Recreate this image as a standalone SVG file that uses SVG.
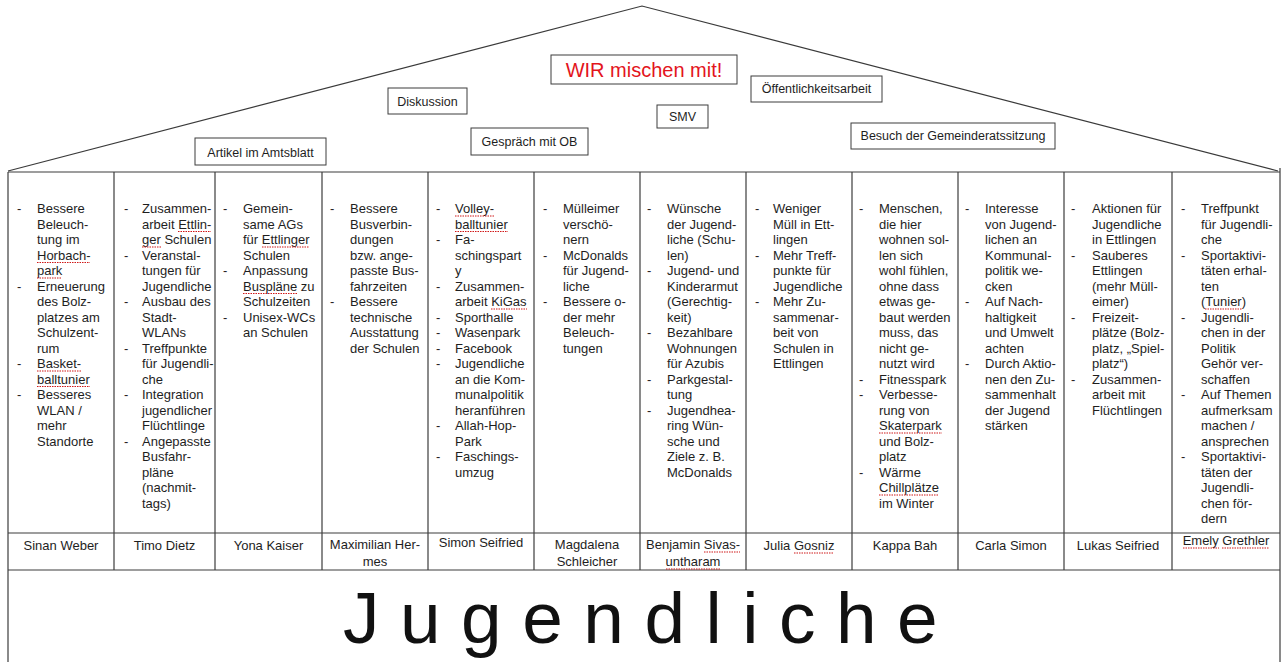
<svg xmlns="http://www.w3.org/2000/svg" width="1283" height="662" viewBox="0 0 1283 662">
<style>
text{font-family:"Liberation Sans",Arial,sans-serif;fill:#1e1e1e}
.roofline{fill:none;stroke:#3a3a3a;stroke-width:1.2}
.box rect{fill:#fff;stroke:#3c3c3c;stroke-width:1}
.box text{font-size:12.5px;text-anchor:middle}
.wir text{font-size:20px;fill:#e3141c}
.grid line{stroke:#3c3c3c;stroke-width:1.2}
.col text{font-size:13px}
.name text{font-size:13px;text-anchor:middle}
.sq{stroke:#d01818;stroke-width:1.2;stroke-dasharray:1.5 1}
.big{font-size:73px;letter-spacing:20.5px;fill:#111}
</style>

<g id="roof">
<polyline class="roofline" points="8,171 642,6 1278,171"/>
</g>

<g id="artikel" class="box"><rect x="195" y="138" width="131" height="27"/><text x="260.5" y="156.5">Artikel im Amtsblatt</text></g>
<g id="diskussion" class="box"><rect x="388" y="88" width="79" height="26"/><text x="427.5" y="105.5">Diskussion</text></g>
<g id="wir" class="box wir"><rect x="551" y="55" width="186" height="29"/><text x="644" y="77">WIR mischen mit!</text></g>
<g id="gespraech" class="box"><rect x="471" y="128" width="117" height="27"/><text x="529.5" y="145.5">Gespräch mit OB</text></g>
<g id="smv" class="box"><rect x="657" y="105" width="51" height="23"/><text x="682.5" y="120.5">SMV</text></g>
<g id="oeffentlichkeit" class="box"><rect x="751" y="76" width="131" height="26"/><text x="816.5" y="93">Öffentlichkeitsarbeit</text></g>
<g id="besuch" class="box"><rect x="851" y="123" width="204" height="26"/><text x="953" y="140">Besuch der Gemeinderatssitzung</text></g>

<g id="grid" class="grid">
<line x1="8" y1="172" x2="1280" y2="172"/>
<line x1="8" y1="172" x2="8" y2="662"/>
<line x1="1280" y1="168" x2="1280" y2="662"/>
<line x1="114" y1="172" x2="114" y2="570"/>
<line x1="215" y1="172" x2="215" y2="570"/>
<line x1="322" y1="172" x2="322" y2="570"/>
<line x1="428" y1="172" x2="428" y2="570"/>
<line x1="534" y1="172" x2="534" y2="570"/>
<line x1="640" y1="172" x2="640" y2="570"/>
<line x1="746" y1="172" x2="746" y2="570"/>
<line x1="852" y1="172" x2="852" y2="570"/>
<line x1="958" y1="172" x2="958" y2="570"/>
<line x1="1064" y1="172" x2="1064" y2="570"/>
<line x1="1172" y1="172" x2="1172" y2="570"/>
<line x1="8" y1="533" x2="1280" y2="533"/>
<line x1="8" y1="570" x2="1280" y2="570"/>
</g>

<g id="col1" class="col">
<text x="17"><tspan y="213">-</tspan><tspan x="17" y="290.5">-</tspan><tspan x="17" y="368">-</tspan><tspan x="17" y="399">-</tspan></text>
<text><tspan x="37" y="213">Bessere</tspan><tspan x="37" y="228.5">Beleuch-</tspan><tspan x="37" y="244">tung im</tspan><tspan x="37" y="259.5">Horbach-</tspan><tspan x="37" y="275">park</tspan><tspan x="37" y="290.5">Erneuerung</tspan><tspan x="37" y="306">des Bolz-</tspan><tspan x="37" y="321.5">platzes am</tspan><tspan x="37" y="337">Schulzent-</tspan><tspan x="37" y="352.5">rum</tspan><tspan x="37" y="368">Basket-</tspan><tspan x="37" y="383.5">balltunier</tspan><tspan x="37" y="399">Besseres</tspan><tspan x="37" y="414.5">WLAN /</tspan><tspan x="37" y="430">mehr</tspan><tspan x="37" y="445.5">Standorte</tspan></text>
<line class="sq" x1="37" y1="262.5" x2="90" y2="262.5"/><line class="sq" x1="37" y1="278" x2="62" y2="278"/><line class="sq" x1="37" y1="371" x2="81" y2="371"/><line class="sq" x1="37" y1="386.5" x2="90" y2="386.5"/>
</g>

<g id="col2" class="col">
<text><tspan x="124" y="213">-</tspan><tspan x="124" y="259.5">-</tspan><tspan x="124" y="306">-</tspan><tspan x="124" y="352.5">-</tspan><tspan x="124" y="399">-</tspan><tspan x="124" y="445.5">-</tspan></text>
<text><tspan x="142" y="213">Zusammen-</tspan><tspan x="142" y="228.5">arbeit Ettlin-</tspan><tspan x="142" y="244">ger Schulen</tspan><tspan x="142" y="259.5">Veranstal-</tspan><tspan x="142" y="275">tungen für</tspan><tspan x="142" y="290.5">Jugendliche</tspan><tspan x="142" y="306">Ausbau des</tspan><tspan x="142" y="321.5">Stadt-</tspan><tspan x="142" y="337">WLANs</tspan><tspan x="142" y="352.5">Treffpunkte</tspan><tspan x="142" y="368">für Jugendli-</tspan><tspan x="142" y="383.5">che</tspan><tspan x="142" y="399">Integration</tspan><tspan x="142" y="414.5">jugendlicher</tspan><tspan x="142" y="430">Flüchtlinge</tspan><tspan x="142" y="445.5">Angepasste</tspan><tspan x="142" y="461">Busfahr-</tspan><tspan x="142" y="476.5">pläne</tspan><tspan x="142" y="492">(nachmit-</tspan><tspan x="142" y="507.5">tags)</tspan></text>
<line class="sq" x1="178" y1="231.5" x2="211" y2="231.5"/><line class="sq" x1="142" y1="247" x2="161" y2="247"/>
</g>

<g id="col3" class="col">
<text><tspan x="223" y="213">-</tspan><tspan x="223" y="275">-</tspan><tspan x="223" y="321.5">-</tspan></text>
<text><tspan x="243" y="213">Gemein-</tspan><tspan x="243" y="228.5">same AGs</tspan><tspan x="243" y="244">für Ettlinger</tspan><tspan x="243" y="259.5">Schulen</tspan><tspan x="243" y="275">Anpassung</tspan><tspan x="243" y="290.5">Buspläne zu</tspan><tspan x="243" y="306">Schulzeiten</tspan><tspan x="243" y="321.5">Unisex-WCs</tspan><tspan x="243" y="337">an Schulen</tspan></text>
<line class="sq" x1="262" y1="247" x2="309" y2="247"/><line class="sq" x1="243" y1="293.5" x2="297" y2="293.5"/>
</g>

<g id="col4" class="col">
<text><tspan x="330" y="213">-</tspan><tspan x="330" y="306">-</tspan></text>
<text><tspan x="350" y="213">Bessere</tspan><tspan x="350" y="228.5">Busverbin-</tspan><tspan x="350" y="244">dungen</tspan><tspan x="350" y="259.5">bzw. ange-</tspan><tspan x="350" y="275">passte Bus-</tspan><tspan x="350" y="290.5">fahrzeiten</tspan><tspan x="350" y="306">Bessere</tspan><tspan x="350" y="321.5">technische</tspan><tspan x="350" y="337">Ausstattung</tspan><tspan x="350" y="352.5">der Schulen</tspan></text>
</g>

<g id="col5" class="col">
<text><tspan x="436" y="213">-</tspan><tspan x="436" y="244">-</tspan><tspan x="436" y="290.5">-</tspan><tspan x="436" y="321.5">-</tspan><tspan x="436" y="337">-</tspan><tspan x="436" y="352.5">-</tspan><tspan x="436" y="368">-</tspan><tspan x="436" y="430">-</tspan><tspan x="436" y="461">-</tspan></text>
<text><tspan x="455" y="213">Volley-</tspan><tspan x="455" y="228.5">balltunier</tspan><tspan x="455" y="244">Fa-</tspan><tspan x="455" y="259.5">schingspart</tspan><tspan x="455" y="275">y</tspan><tspan x="455" y="290.5">Zusammen-</tspan><tspan x="455" y="306">arbeit KiGas</tspan><tspan x="455" y="321.5">Sporthalle</tspan><tspan x="455" y="337">Wasenpark</tspan><tspan x="455" y="352.5">Facebook</tspan><tspan x="455" y="368">Jugendliche</tspan><tspan x="455" y="383.5">an die Kom-</tspan><tspan x="455" y="399">munalpolitik</tspan><tspan x="455" y="414.5">heranführen</tspan><tspan x="455" y="430">Allah-Hop-</tspan><tspan x="455" y="445.5">Park</tspan><tspan x="455" y="461">Faschings-</tspan><tspan x="455" y="476.5">umzug</tspan></text>
<line class="sq" x1="455" y1="216" x2="495" y2="216"/><line class="sq" x1="455" y1="231.5" x2="508" y2="231.5"/><line class="sq" x1="491" y1="309" x2="527" y2="309"/>
</g>

<g id="col6" class="col">
<text><tspan x="543" y="213">-</tspan><tspan x="543" y="259.5">-</tspan><tspan x="543" y="306">-</tspan></text>
<text><tspan x="563" y="213">Mülleimer</tspan><tspan x="563" y="228.5">verschö-</tspan><tspan x="563" y="244">nern</tspan><tspan x="563" y="259.5">McDonalds</tspan><tspan x="563" y="275">für Jugend-</tspan><tspan x="563" y="290.5">liche</tspan><tspan x="563" y="306">Bessere o-</tspan><tspan x="563" y="321.5">der mehr</tspan><tspan x="563" y="337">Beleuch-</tspan><tspan x="563" y="352.5">tungen</tspan></text>
</g>

<g id="col7" class="col">
<text><tspan x="647" y="213">-</tspan><tspan x="647" y="275">-</tspan><tspan x="647" y="337">-</tspan><tspan x="647" y="383.5">-</tspan><tspan x="647" y="414.5">-</tspan></text>
<text><tspan x="667" y="213">Wünsche</tspan><tspan x="667" y="228.5">der Jugend-</tspan><tspan x="667" y="244">liche (Schu-</tspan><tspan x="667" y="259.5">len)</tspan><tspan x="667" y="275">Jugend- und</tspan><tspan x="667" y="290.5">Kinderarmut</tspan><tspan x="667" y="306">(Gerechtig-</tspan><tspan x="667" y="321.5">keit)</tspan><tspan x="667" y="337">Bezahlbare</tspan><tspan x="667" y="352.5">Wohnungen</tspan><tspan x="667" y="368">für Azubis</tspan><tspan x="667" y="383.5">Parkgestal-</tspan><tspan x="667" y="399">tung</tspan><tspan x="667" y="414.5">Jugendhea-</tspan><tspan x="667" y="430">ring Wün-</tspan><tspan x="667" y="445.5">sche und</tspan><tspan x="667" y="461">Ziele z. B.</tspan><tspan x="667" y="476.5">McDonalds</tspan></text>
</g>

<g id="col8" class="col">
<text><tspan x="755" y="213">-</tspan><tspan x="755" y="259.5">-</tspan><tspan x="755" y="306">-</tspan></text>
<text><tspan x="773" y="213">Weniger</tspan><tspan x="773" y="228.5">Müll in Ett-</tspan><tspan x="773" y="244">lingen</tspan><tspan x="773" y="259.5">Mehr Treff-</tspan><tspan x="773" y="275">punkte für</tspan><tspan x="773" y="290.5">Jugendliche</tspan><tspan x="773" y="306">Mehr Zu-</tspan><tspan x="773" y="321.5">sammenar-</tspan><tspan x="773" y="337">beit von</tspan><tspan x="773" y="352.5">Schulen in</tspan><tspan x="773" y="368">Ettlingen</tspan></text>
</g>

<g id="col9" class="col">
<text><tspan x="859" y="213">-</tspan><tspan x="859" y="383.5">-</tspan><tspan x="859" y="399">-</tspan><tspan x="859" y="476.5">-</tspan></text>
<text><tspan x="879" y="213">Menschen,</tspan><tspan x="879" y="228.5">die hier</tspan><tspan x="879" y="244">wohnen sol-</tspan><tspan x="879" y="259.5">len sich</tspan><tspan x="879" y="275">wohl fühlen,</tspan><tspan x="879" y="290.5">ohne dass</tspan><tspan x="879" y="306">etwas ge-</tspan><tspan x="879" y="321.5">baut werden</tspan><tspan x="879" y="337">muss, das</tspan><tspan x="879" y="352.5">nicht ge-</tspan><tspan x="879" y="368">nutzt wird</tspan><tspan x="879" y="383.5">Fitnesspark</tspan><tspan x="879" y="399">Verbesse-</tspan><tspan x="879" y="414.5">rung von</tspan><tspan x="879" y="430">Skaterpark</tspan><tspan x="879" y="445.5">und Bolz-</tspan><tspan x="879" y="461">platz</tspan><tspan x="879" y="476.5">Wärme</tspan><tspan x="879" y="492">Chillplätze</tspan><tspan x="879" y="507.5">im Winter</tspan></text>
<line class="sq" x1="879" y1="433" x2="942" y2="433"/><line class="sq" x1="879" y1="495" x2="939" y2="495"/>
</g>

<g id="col10" class="col">
<text><tspan x="965" y="213">-</tspan><tspan x="965" y="306">-</tspan><tspan x="965" y="368">-</tspan></text>
<text><tspan x="985" y="213">Interesse</tspan><tspan x="985" y="228.5">von Jugend-</tspan><tspan x="985" y="244">lichen an</tspan><tspan x="985" y="259.5">Kommunal-</tspan><tspan x="985" y="275">politik we-</tspan><tspan x="985" y="290.5">cken</tspan><tspan x="985" y="306">Auf Nach-</tspan><tspan x="985" y="321.5">haltigkeit</tspan><tspan x="985" y="337">und Umwelt</tspan><tspan x="985" y="352.5">achten</tspan><tspan x="985" y="368">Durch Aktio-</tspan><tspan x="985" y="383.5">nen den Zu-</tspan><tspan x="985" y="399">sammenhalt</tspan><tspan x="985" y="414.5">der Jugend</tspan><tspan x="985" y="430">stärken</tspan></text>
</g>

<g id="col11" class="col">
<text><tspan x="1071" y="213">-</tspan><tspan x="1071" y="259.5">-</tspan><tspan x="1071" y="321.5">-</tspan><tspan x="1071" y="383.5">-</tspan></text>
<text><tspan x="1092" y="213">Aktionen für</tspan><tspan x="1092" y="228.5">Jugendliche</tspan><tspan x="1092" y="244">in Ettlingen</tspan><tspan x="1092" y="259.5">Sauberes</tspan><tspan x="1092" y="275">Ettlingen</tspan><tspan x="1092" y="290.5">(mehr Müll-</tspan><tspan x="1092" y="306">eimer)</tspan><tspan x="1092" y="321.5">Freizeit-</tspan><tspan x="1092" y="337">plätze (Bolz-</tspan><tspan x="1092" y="352.5">platz, „Spiel-</tspan><tspan x="1092" y="368">platz“)</tspan><tspan x="1092" y="383.5">Zusammen-</tspan><tspan x="1092" y="399">arbeit mit</tspan><tspan x="1092" y="414.5">Flüchtlingen</tspan></text>
</g>

<g id="col12" class="col">
<text><tspan x="1181" y="213">-</tspan><tspan x="1181" y="259.5">-</tspan><tspan x="1181" y="321.5">-</tspan><tspan x="1181" y="399">-</tspan><tspan x="1181" y="461">-</tspan></text>
<text><tspan x="1201" y="213">Treffpunkt</tspan><tspan x="1201" y="228.5">für Jugendli-</tspan><tspan x="1201" y="244">che</tspan><tspan x="1201" y="259.5">Sportaktivi-</tspan><tspan x="1201" y="275">täten erhal-</tspan><tspan x="1201" y="290.5">ten</tspan><tspan x="1201" y="306">(Tunier)</tspan><tspan x="1201" y="321.5">Jugendli-</tspan><tspan x="1201" y="337">chen in der</tspan><tspan x="1201" y="352.5">Politik</tspan><tspan x="1201" y="368">Gehör ver-</tspan><tspan x="1201" y="383.5">schaffen</tspan><tspan x="1201" y="399">Auf Themen</tspan><tspan x="1201" y="414.5">aufmerksam</tspan><tspan x="1201" y="430">machen /</tspan><tspan x="1201" y="445.5">ansprechen</tspan><tspan x="1201" y="461">Sportaktivi-</tspan><tspan x="1201" y="476.5">täten der</tspan><tspan x="1201" y="492">Jugendli-</tspan><tspan x="1201" y="507.5">chen för-</tspan><tspan x="1201" y="523">dern</tspan></text>
<line class="sq" x1="1205" y1="309" x2="1242" y2="309"/>
</g>

<g id="names" class="name">
<g id="n1"><text x="61" y="550">Sinan Weber</text></g>
<g id="n2"><text x="164.5" y="550">Timo Dietz</text></g>
<g id="n3"><text x="268.5" y="550">Yona Kaiser</text></g>
<g id="n4"><text x="375" y="549">Maximilian Her-</text><text x="375" y="566">mes</text></g>
<g id="n5"><text x="481" y="547">Simon Seifried</text></g>
<g id="n6"><text x="587" y="549">Magdalena</text><text x="587" y="566">Schleicher</text></g>
<g id="n7"><text x="693" y="549">Benjamin Sivas-</text><text x="693" y="566">untharam</text><line class="sq" x1="704" y1="552" x2="740" y2="552"/><line class="sq" x1="666" y1="569" x2="721" y2="569"/></g>
<g id="n8"><text x="799" y="550">Julia Gosniz</text><line class="sq" x1="794" y1="553" x2="834" y2="553"/></g>
<g id="n9"><text x="905" y="550">Kappa Bah</text></g>
<g id="n10"><text x="1011" y="550">Carla Simon</text></g>
<g id="n11"><text x="1118" y="550">Lukas Seifried</text></g>
<g id="n12"><text x="1226" y="545">Emely Grethler</text><line class="sq" x1="1183" y1="548" x2="1219" y2="548"/><line class="sq" x1="1222" y1="548" x2="1269" y2="548"/></g>
</g>

<g id="jugendliche">
<text class="big" x="343" y="643">Jugendliche</text>
</g>
</svg>
